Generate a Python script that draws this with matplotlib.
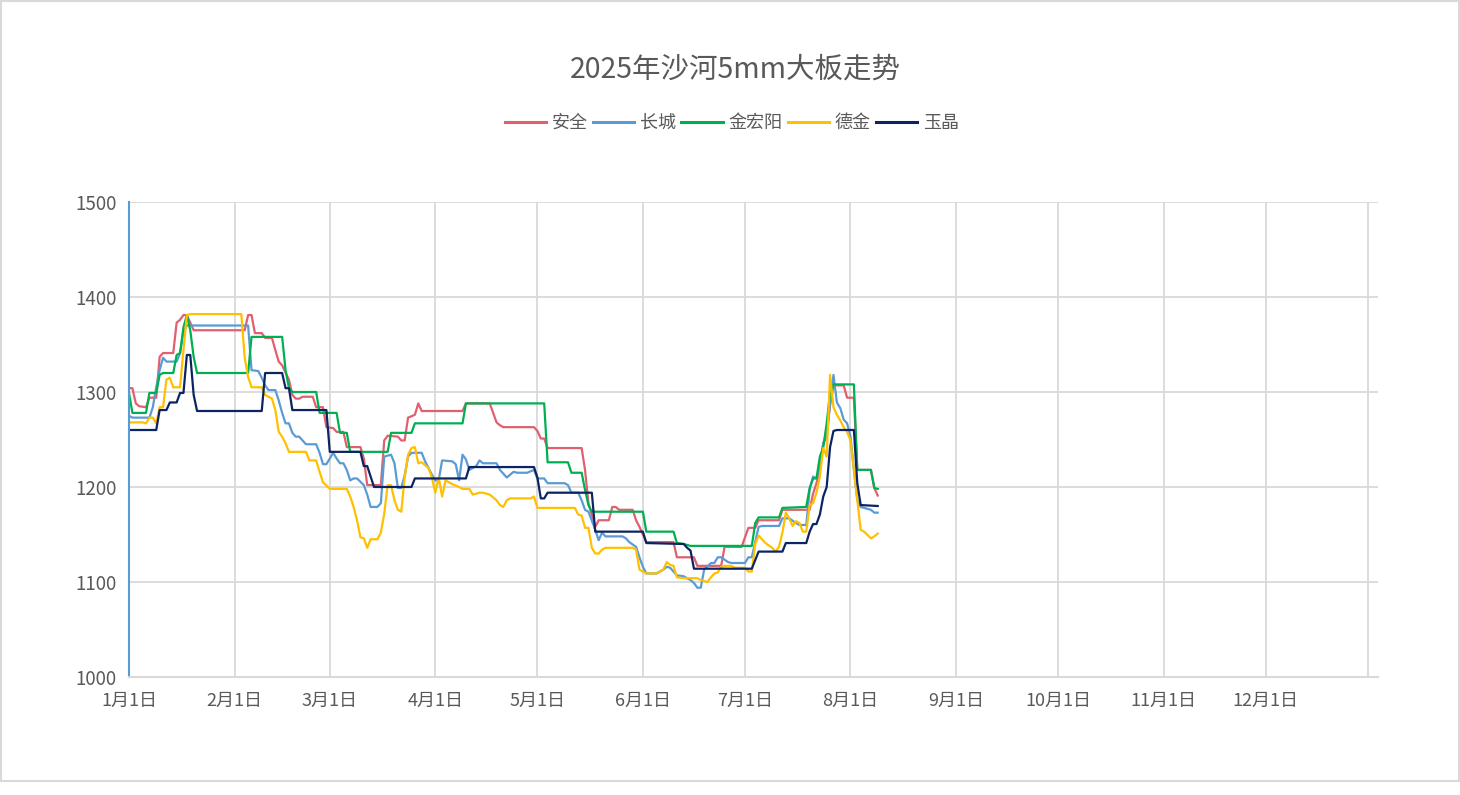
import matplotlib
matplotlib.use("Agg")
import matplotlib.pyplot as plt
from matplotlib.patches import Rectangle
import pandas as pd

plt.rcParams['font.family'] = ['Noto Sans CJK SC', 'DejaVu Sans']

title = "2025年沙河5mm大板走势"
month_labels = ["1月1日", "2月1日", "3月1日", "4月1日", "5月1日", "6月1日",
                "7月1日", "8月1日", "9月1日", "10月1日", "11月1日", "12月1日"]
y_ticks = [1000, 1100, 1200, 1300, 1400, 1500]

anquan_dates = ['01-01','01-02','01-03','01-04','01-06','01-07','01-09','01-10','01-11','01-14',
                '01-15','01-16','01-17','01-18','01-20','02-04','02-05','02-06','02-07','02-09',
                '02-10','02-12','02-13','02-14','02-15','02-17','02-18','02-19','02-20','02-21',
                '02-24','02-25','02-27','02-28','03-02','03-03','03-05','03-06','03-10','03-11',
                '03-12','03-16','03-17','03-18','03-21','03-22','03-23','03-24','03-26','03-27',
                '03-28','04-09','04-10','04-17','04-19','04-20','04-21','04-30','05-01','05-02',
                '05-03','05-04','05-14','05-15','05-16','05-18','05-19','05-22','05-23','05-24',
                '05-25','05-29','05-30','05-31','06-02','06-10','06-11','06-16','06-17','06-24',
                '06-25','06-30','07-02','07-04','07-05','07-11','07-12','07-20','07-21','07-22',
                '07-23','07-24','07-25','07-26','07-27','07-30','07-31','08-02','08-03','08-07',
                '08-08','08-09']
anquan_vals = [1304,1304,1288,1285,1284,1294,1294,1337,1341,1341,
               1373,1376,1381,1381,1365,1365,1381,1381,1362,1362,
               1357,1357,1344,1332,1328,1313,1297,1293,1293,1295,
               1295,1284,1284,1263,1262,1258,1258,1242,1242,1230,
               1202,1202,1249,1254,1253,1249,1249,1273,1276,1288,
               1280,1280,1288,1288,1268,1265,1263,1263,1259,1251,
               1251,1241,1241,1218,1183,1158,1165,1165,1179,1179,
               1176,1176,1165,1158,1142,1142,1126,1126,1117,1117,
               1137,1137,1157,1157,1165,1165,1176,1176,1193,1204,
               1218,1246,1257,1286,1307,1307,1294,1294,1218,1218,
               1199,1191]

changcheng_dates = ['01-01','01-02','01-07','01-08','01-09','01-10','01-11','01-12','01-15','01-16',
                    '01-17','01-18','02-05','02-06','02-08','02-09','02-10','02-11','02-13','02-14',
                    '02-15','02-16','02-17','02-18','02-19','02-20','02-22','02-25','02-26','02-27',
                    '02-28','03-02','03-03','03-04','03-05','03-06','03-07','03-08','03-09','03-11',
                    '03-12','03-13','03-15','03-16','03-17','03-19','03-20','03-21','03-22','03-23',
                    '03-24','03-25','03-28','03-29','03-30','03-31','04-01','04-02','04-03','04-06',
                    '04-07','04-08','04-09','04-10','04-11','04-12','04-13','04-14','04-15','04-19',
                    '04-20','04-22','04-24','04-25','04-28','04-30','05-01','05-03','05-04','05-09',
                    '05-10','05-11','05-13','05-14','05-15','05-16','05-18','05-19','05-20','05-21',
                    '05-26','05-27','05-28','05-30','05-31','06-01','06-02','06-05','06-07','06-08',
                    '06-09','06-11','06-13','06-15','06-16','06-17','06-18','06-19','06-21','06-22',
                    '06-23','06-24','06-26','06-27','07-01','07-02','07-03','07-05','07-06','07-11',
                    '07-12','07-14','07-16','07-17','07-19','07-20','07-21','07-22','07-23','07-24',
                    '07-25','07-26','07-27','07-28','07-29','07-30','07-31','08-01','08-02','08-03',
                    '08-04','08-07','08-08','08-09']
changcheng_vals = [1275,1273,1273,1284,1305,1323,1336,1332,1332,1341,
                   1363,1370,1370,1323,1322,1315,1307,1302,1302,1291,
                   1278,1267,1267,1257,1253,1253,1245,1245,1236,1224,
                   1224,1236,1230,1225,1225,1218,1207,1209,1209,1202,
                   1192,1179,1179,1183,1232,1234,1225,1199,1199,1212,
                   1232,1236,1236,1227,1220,1213,1207,1207,1228,1227,
                   1224,1207,1234,1229,1218,1220,1222,1228,1225,1225,
                   1218,1210,1216,1215,1215,1218,1209,1209,1204,1204,
                   1202,1194,1194,1186,1176,1174,1155,1144,1152,1148,
                   1148,1146,1142,1137,1126,1116,1109,1109,1113,1116,
                   1115,1107,1106,1102,1099,1094,1094,1113,1120,1120,
                   1126,1126,1121,1120,1120,1126,1126,1158,1159,1159,
                   1167,1167,1162,1160,1160,1197,1211,1209,1221,1246,
                   1252,1288,1318,1289,1283,1271,1267,1253,1218,1186,
                   1179,1176,1173,1173]

jinhongyang_dates = ['01-01','01-02','01-06','01-07','01-09','01-10','01-11','01-14','01-15','01-16',
                     '01-17','01-18','01-19','01-20','01-21','02-05','02-06','02-15','02-16','02-17',
                     '02-18','02-25','02-26','03-03','03-04','03-06','03-07','03-18','03-19','03-25',
                     '03-26','04-09','04-10','05-03','05-04','05-10','05-11','05-14','05-15','05-16',
                     '05-17','06-01','06-02','06-10','06-11','06-13','06-15','07-03','07-04','07-05',
                     '07-11','07-12','07-19','07-20','07-21','07-22','07-23','07-24','07-25','07-26',
                     '07-27','08-02','08-03','08-07','08-08','08-09']
jinhongyang_vals = [1299,1278,1278,1299,1299,1318,1320,1320,1339,1341,
                    1368,1381,1365,1337,1320,1320,1358,1358,1323,1304,
                    1300,1300,1278,1278,1257,1257,1237,1237,1257,1257,
                    1267,1267,1288,1288,1226,1226,1215,1215,1197,1181,
                    1174,1174,1153,1153,1141,1140,1138,1138,1162,1168,
                    1168,1178,1179,1199,1209,1209,1232,1242,1267,1299,
                    1308,1308,1218,1218,1199,1198]

dejin_dates = ['01-01','01-05','01-06','01-07','01-08','01-09','01-10','01-11','01-12','01-13',
               '01-14','01-16','01-17','01-18','01-19','02-03','02-04','02-05','02-06','02-09',
               '02-10','02-12','02-13','02-14','02-15','02-16','02-17','02-22','02-23','02-25',
               '02-26','02-27','03-01','03-06','03-07','03-08','03-09','03-10','03-11','03-12',
               '03-13','03-15','03-16','03-17','03-18','03-19','03-20','03-21','03-22','03-23',
               '03-24','03-25','03-26','03-27','03-28','03-30','03-31','04-01','04-02','04-03',
               '04-04','04-06','04-08','04-09','04-11','04-12','04-14','04-15','04-17','04-19',
               '04-20','04-21','04-22','04-23','04-29','04-30','05-01','05-12','05-13','05-14',
               '05-15','05-16','05-17','05-18','05-19','05-20','05-21','05-29','05-30','05-31',
               '06-01','06-02','06-05','06-07','06-08','06-09','06-10','06-11','06-13','06-17',
               '06-18','06-20','06-21','06-22','06-23','06-24','06-25','06-27','06-28','07-01',
               '07-02','07-03','07-04','07-05','07-07','07-09','07-10','07-11','07-12','07-13',
               '07-14','07-15','07-16','07-17','07-18','07-19','07-20','07-21','07-22','07-23',
               '07-24','07-25','07-26','07-27','07-28','07-29','07-30','07-31','08-01','08-02',
               '08-03','08-04','08-05','08-07','08-08','08-09']
dejin_vals = [1268,1268,1267,1273,1273,1267,1284,1284,1313,1315,
              1305,1305,1344,1381,1382,1382,1336,1316,1305,1305,
              1297,1293,1281,1258,1253,1246,1237,1237,1228,1228,
              1216,1205,1198,1198,1190,1179,1165,1147,1146,1136,
              1145,1145,1152,1172,1202,1202,1186,1176,1174,1210,
              1234,1241,1242,1225,1226,1220,1210,1194,1210,1190,
              1207,1203,1200,1198,1198,1192,1194,1194,1192,1186,
              1181,1179,1186,1188,1188,1190,1178,1178,1171,1170,
              1157,1157,1136,1130,1130,1134,1136,1136,1134,1113,
              1111,1109,1109,1113,1121,1118,1117,1105,1104,1104,
              1102,1100,1105,1109,1110,1116,1117,1117,1115,1115,
              1111,1111,1140,1149,1141,1136,1132,1137,1152,1173,
              1167,1159,1164,1162,1153,1153,1181,1183,1194,1211,
              1241,1232,1318,1284,1276,1270,1263,1258,1249,1218,
              1186,1155,1153,1146,1148,1151]

yujing_dates = ['01-01','01-09','01-10','01-12','01-13','01-15','01-16','01-17','01-18','01-19',
                '01-20','01-21','02-09','02-10','02-15','02-16','02-17','02-18','02-28','03-01',
                '03-10','03-11','03-12','03-14','03-25','03-26','04-10','04-11','04-30','05-01',
                '05-02','05-03','05-04','05-17','05-18','06-01','06-02','06-13','06-14','06-15',
                '06-16','07-03','07-04','07-05','07-12','07-13','07-19','07-20','07-21','07-22',
                '07-23','07-24','07-25','07-26','07-27','07-28','08-02','08-03','08-04','08-09']
yujing_vals = [1260,1260,1281,1281,1289,1289,1299,1299,1339,1339,
               1297,1280,1280,1320,1320,1304,1304,1281,1281,1237,
               1237,1222,1222,1200,1200,1209,1209,1221,1221,1210,
               1188,1188,1194,1194,1153,1153,1141,1140,1136,1133,
               1114,1114,1123,1132,1132,1141,1141,1153,1161,1161,
               1171,1190,1200,1242,1259,1260,1260,1204,1181,1180]

series = [
    ("安全", anquan_dates, anquan_vals, "#E0606F"),
    ("长城", changcheng_dates, changcheng_vals, "#5B9BD5"),
    ("金宏阳", jinhongyang_dates, jinhongyang_vals, "#00B050"),
    ("德金", dejin_dates, dejin_vals, "#FFC000"),
    ("玉晶", yujing_dates, yujing_vals, "#0C2461"),
]

W, H = 1460, 795
fig = plt.figure(figsize=(W / 100, H / 100), dpi=100)
fig.patch.set_facecolor("white")
fig.patches.append(Rectangle((1 / W, (H - 781) / H), 1458 / W, 780 / H,
                             transform=fig.transFigure, fill=False,
                             edgecolor="#D9D9D9", linewidth=1.5))

ax = fig.add_axes([129 / W, 1 - 677 / H, (1378 - 129) / W, (677 - 202) / H])

for name, d, v, c in series:
    x = pd.to_datetime(["2025-" + s for s in d])
    ax.plot(x, v, color=c, linewidth=1.6, label=name, solid_joinstyle="round")

start = pd.Timestamp("2025-01-01")
ax.set_xlim(start, start + pd.Timedelta(days=367))
ax.set_ylim(1000, 1500)

month_starts = pd.date_range("2025-01-01", periods=12, freq="MS")
ax.set_xticks(month_starts)
ax.set_xticklabels(month_labels)
ax.set_yticks(y_ticks)
ax.set_yticklabels([str(t) for t in y_ticks])

ax.grid(True, color="#D9D9D9", linewidth=1.3)
ax.axvline(pd.Timestamp("2025-12-31"), color="#D9D9D9", linewidth=1.3, zorder=0)
ax.set_axisbelow(True)

for s in ["top", "right"]:
    ax.spines[s].set_visible(False)
ax.spines["left"].set_color("#5B9BD5")
ax.spines["left"].set_linewidth(1.5)
ax.spines["bottom"].set_color("#D9D9D9")
ax.spines["bottom"].set_linewidth(1.5)

ax.tick_params(axis="both", length=0, colors="#595959")
ax.tick_params(axis="y", pad=9, labelsize=13.5)
ax.tick_params(axis="x", pad=10.5, labelsize=13)

fig.text(735 / W, 1 - 70 / H, title, ha="center", va="center",
         fontsize=20.5, color="#595959")

leg = fig.legend(loc="center", bbox_to_anchor=(732 / W, 1 - 123 / H), ncol=5,
                 frameon=False, fontsize=13, handlelength=2.28, handletextpad=0.33,
                 columnspacing=0.28, labelcolor="#595959")
for line in leg.get_lines():
    line.set_linewidth(2.2)

fig.savefig("out.png", dpi=100, facecolor="white")
